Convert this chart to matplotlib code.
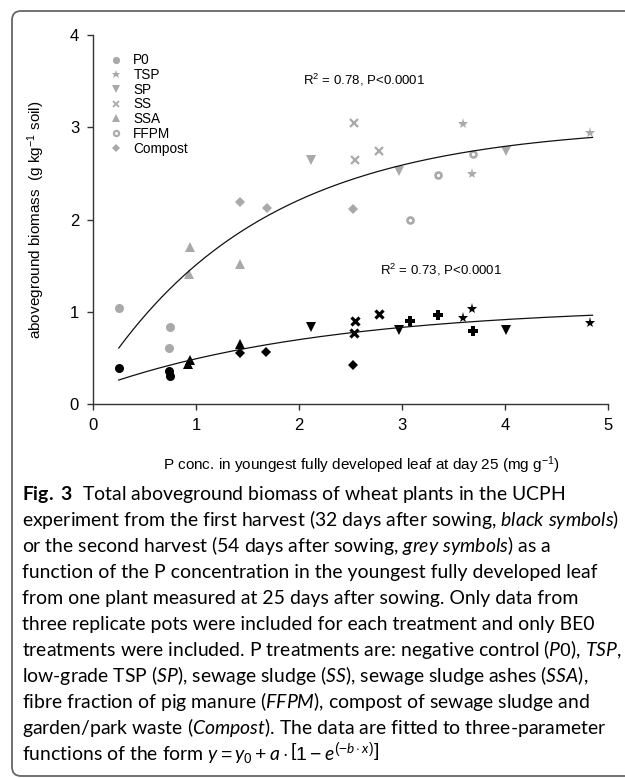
import numpy as np
import matplotlib
matplotlib.use('Agg')
import matplotlib.pyplot as plt
from matplotlib.lines import Line2D
from matplotlib.patches import FancyBboxPatch
from matplotlib.transforms import IdentityTransform

plt.rcParams['font.family'] = ['Liberation Sans', 'DejaVu Sans']
plt.rcParams['mathtext.fontset'] = 'custom'
plt.rcParams['mathtext.rm'] = 'Liberation Sans'
plt.rcParams['mathtext.it'] = 'Lato:italic'
plt.rcParams['mathtext.bf'] = 'Lato:bold'

# ---------------- data ----------------
treatments = ["P0", "TSP", "SP", "SS", "SSA", "FFPM", "Compost"]

# second harvest (grey symbols)
grey_x = {
    "P0": [0.25, 0.75, 0.74],
    "TSP": [3.59, 3.68, 4.83],
    "SP": [2.12, 2.97, 4.01],
    "SS": [2.53, 2.54, 2.78],
    "SSA": [0.94, 0.93, 1.43],
    "FFPM": [3.08, 3.35, 3.69],
    "Compost": [1.43, 1.69, 2.52],
}
grey_y = {
    "P0": [1.04, 0.83, 0.61],
    "TSP": [3.03, 2.49, 2.94],
    "SP": [2.65, 2.53, 2.74],
    "SS": [3.05, 2.65, 2.74],
    "SSA": [1.70, 1.41, 1.52],
    "FFPM": [1.99, 2.48, 2.71],
    "Compost": [2.19, 2.12, 2.11],
}
# first harvest (black symbols)
black_x = {
    "P0": [0.25, 0.74, 0.75],
    "TSP": [3.59, 3.68, 4.83],
    "SP": [2.12, 2.97, 4.01],
    "SS": [2.54, 2.53, 2.78],
    "SSA": [0.94, 0.92, 1.43],
    "FFPM": [3.08, 3.35, 3.69],
    "Compost": [1.43, 1.68, 2.52],
}
black_y = {
    "P0": [0.39, 0.36, 0.30],
    "TSP": [0.93, 1.03, 0.875],
    "SP": [0.83, 0.80, 0.80],
    "SS": [0.90, 0.77, 0.98],
    "SSA": [0.48, 0.43, 0.65],
    "FFPM": [0.90, 0.96, 0.79],
    "Compost": [0.55, 0.56, 0.42],
}

# fitted three-parameter functions y = y0 + a*(1 - exp(-b x))
grey_fit = dict(y0=0.20, a=2.83, b=0.62)
black_fit = dict(y0=0.164, a=0.90, b=0.45)
fit_x_range = [0.25, 4.85]

grey_label = "R$^2$ = 0.78, P<0.0001"
black_label = "R$^2$ = 0.73, P<0.0001"

x_ticks = [0, 1, 2, 3, 4, 5]
y_ticks = [0, 1, 2, 3, 4]

# ---------------- styles ----------------
GREY = '#a9a9a9'
BLACK = '#000000'
mstyle = {
    "P0": dict(marker='o', ms=6.5),
    "TSP": dict(marker='*', ms=8),
    "SP": dict(marker='v', ms=6.5),
    "SS": dict(marker='x', ms=5.5),
    "SSA": dict(marker='^', ms=6.5),
    "FFPM": dict(marker='P', ms=6.8),
    "Compost": dict(marker='D', ms=5.5),
}

W, H = 625, 778
fig = plt.figure(figsize=(W / 100, H / 100), dpi=100)
ax = fig.add_axes([93 / W, 1 - 404 / H, 515 / W, 369 / H])


def draw(xs, ys, color, key):
    st = mstyle[key]
    kw = dict(ls='none', marker=st['marker'], ms=st['ms'], color=color)
    if key == 'SS':
        kw.update(mew=2.3 if color == BLACK else 1.6)
    elif key == 'FFPM' and color == GREY:
        kw.update(marker='o', ms=4.3, mfc='white', mec=color, mew=1.9)
    else:
        kw.update(mew=0)
    return ax.plot(xs, ys, **kw)[0]


for k in treatments:
    draw(grey_x[k], grey_y[k], GREY, k)
    draw(black_x[k], black_y[k], BLACK, k)

xf = np.linspace(fit_x_range[0], fit_x_range[1], 200)
for p in (grey_fit, black_fit):
    ax.plot(xf, p['y0'] + p['a'] * (1 - np.exp(-p['b'] * xf)), color='#111111', lw=0.9)

ax.text(2.04, 3.51, grey_label, fontsize=9.5, va='center', ha='left')
ax.text(2.79, 1.45, black_label, fontsize=9.5, va='center', ha='left')

# legend
handles = []
for k in treatments:
    st = mstyle[k]
    kw = dict(ls='none', marker=st['marker'], ms=st['ms'] * 0.8, color=GREY)
    if k == 'SS':
        kw.update(mew=1.3)
    elif k == 'FFPM':
        kw.update(marker='o', ms=3.8, mfc='white', mec=GREY, mew=1.5)
    else:
        kw.update(mew=0)
    handles.append(Line2D([], [], **kw))
ax.legend(handles, treatments, loc='upper left', bbox_to_anchor=(0.032, 0.95),
          frameon=False, fontsize=9.8, handlelength=1.0, handletextpad=0.75,
          labelspacing=0.05, borderpad=0, borderaxespad=0)

ax.set_xlim(0, 5)
ax.set_ylim(0, 4)
ax.set_xticks(x_ticks)
ax.set_yticks(y_ticks)
ax.set_xticklabels([str(v) for v in x_ticks])
ax.set_yticklabels([str(v) for v in y_ticks])
for s in ['top', 'right']:
    ax.spines[s].set_visible(False)
for s in ['left', 'bottom']:
    ax.spines[s].set_color('#333333')
    ax.spines[s].set_linewidth(1.0)
ax.tick_params(direction='out', length=4, width=1.0, color='#333333',
               labelsize=12, pad=6)
ax.set_ylabel("aboveground biomass  (g kg$^{-1}$ soil)", fontsize=11)
ax.yaxis.set_label_coords(-0.089, 0.5)
fig.text(361 / W, 1 - 465 / H, "P conc. in youngest fully developed leaf at day 25 (mg g$^{-1}$)",
         fontsize=11, ha='center', va='center')

# frame
frame = FancyBboxPatch((12, 2), 700, 765, boxstyle='round,pad=0,rounding_size=9',
                       transform=IdentityTransform(), fill=False,
                       edgecolor='#666666', lw=1.3)
fig.patches.append(frame)

# caption
caption = [
    r"$\mathbf{Fig.\ 3}$  Total aboveground biomass of wheat plants in the UCPH",
    r"experiment from the first harvest (32 days after sowing, $\mathit{black\ symbols}$)",
    r"or the second harvest (54 days after sowing, $\mathit{grey\ symbols}$) as a",
    r"function of the P concentration in the youngest fully developed leaf",
    r"from one plant measured at 25 days after sowing. Only data from",
    r"three replicate pots were included for each treatment and only BE0",
    r"treatments were included. P treatments are: negative control ($\mathit{P0}$), $\mathit{TSP}$,",
    r"low-grade TSP ($\mathit{SP}$), sewage sludge ($\mathit{SS}$), sewage sludge ashes ($\mathit{SSA}$),",
    r"fibre fraction of pig manure ($\mathit{FFPM}$), compost of sewage sludge and",
    r"garden/park waste ($\mathit{Compost}$). The data are fitted to three-parameter",
    r"functions of the form $y = y_0 + a \cdot \left[1 - e^{(-b \cdot x)}\right]$",
]
renderer = fig.canvas.get_renderer()
tmp = fig.text(0, 0, caption[1], fontsize=10, family='Lato')
wpx = tmp.get_window_extent(renderer).width
tmp.remove()
cap_fs = 10 * 599 / wpx
for i, line in enumerate(caption):
    fig.text(22 / W, 1 - (500 + i * 26.0) / H, line, fontsize=cap_fs, family='Lato',
             ha='left', va='baseline', color='#000000')

fig.savefig('out.png', dpi=100)
